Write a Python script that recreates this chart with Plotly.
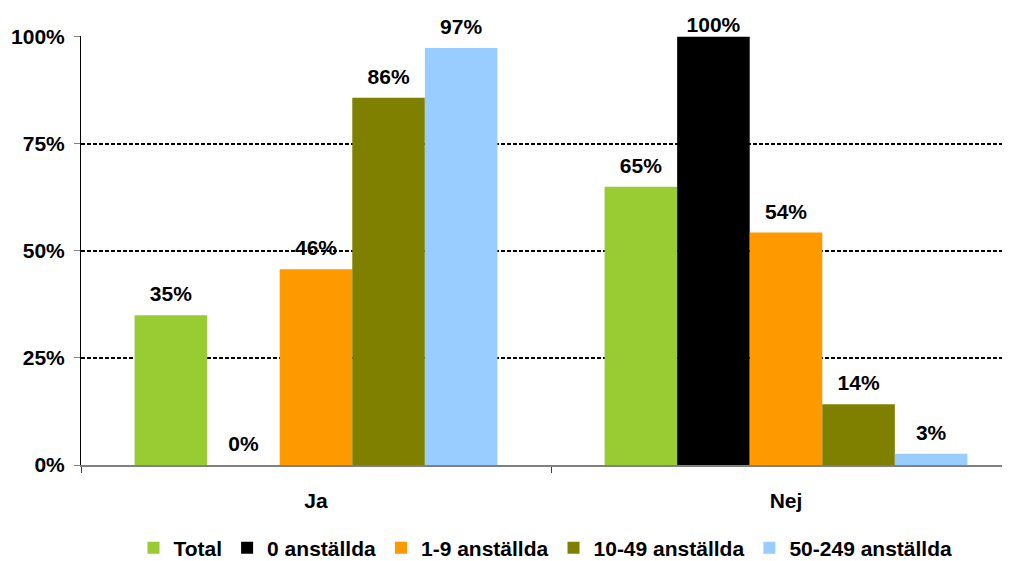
import plotly.graph_objects as go

categories = ["Ja", "Nej"]
series_names = ["Total", "0 anställda", "1-9 anställda", "10-49 anställda", "50-249 anställda"]
series_values = [
    [0.35, 0.65],
    [0.0, 1.00],
    [0.457, 0.543],
    [0.858, 0.142],
    [0.974, 0.026],
]
series_labels = [
    ["35%", "65%"],
    ["0%", "100%"],
    ["46%", "54%"],
    ["86%", "14%"],
    ["97%", "3%"],
]
colors = ["#99CC33", "#000000", "#FF9900", "#808000", "#99CCFF"]
y_ticks = [0, 0.25, 0.5, 0.75, 1.0]
y_ticklabels = ["0%", "25%", "50%", "75%", "100%"]

FONT = "Liberation Sans, Arial, sans-serif"
F = dict(family=FONT, size=21, color="#000000", weight="bold")
LABEL_PAD = 12.4  # invisible marker size that lifts the value labels

fig = go.Figure()
for name, vals, col in zip(series_names, series_values, colors):
    fig.add_trace(go.Bar(
        x=categories, y=vals, name=name, offsetgroup=name,
        marker=dict(color=col, line=dict(width=0)),
        hoverinfo="skip",
    ))
# value labels, aligned with bars through offset groups
for name, vals, labs in zip(series_names, series_values, series_labels):
    # labels of bars reaching the top are squeezed down against the plot top
    pads = [0 if v >= 0.99 else LABEL_PAD for v in vals]
    fig.add_trace(go.Scatter(
        x=categories, y=vals, offsetgroup=name, mode="markers+text",
        marker=dict(size=pads, opacity=0),
        text=labs, textposition="top center", textfont=F,
        showlegend=False, cliponaxis=False, hoverinfo="skip",
    ))

fig.update_layout(
    width=1010, height=561,
    margin=dict(l=73, r=8, t=28, b=104),
    paper_bgcolor="white", plot_bgcolor="white",
    barmode="group", bargap=0.228, bargroupgap=0,
    scattermode="group", scattergap=0.228,
    font=F,
    showlegend=True,
    legend=dict(orientation="h", x=0.5, xanchor="center",
                yref="container", y=0.074, yanchor="top",
                font=F, itemwidth=30, tracegroupgap=0, traceorder="normal"),
)
fig.update_xaxes(
    range=[-0.5, 1.4766], automargin=False,
    showline=True, linecolor="#808080", linewidth=1.5,
    ticks="outside", tickson="boundaries", ticklen=6, tickcolor="#404040",
    showgrid=False, zeroline=False, ticklabelstandoff=16,
    tickfont=F,
)
fig.update_yaxes(
    range=[0, 1.002], tickvals=y_ticks, ticktext=y_ticklabels, automargin=False,
    showline=True, linecolor="#000000", linewidth=1,
    ticks="outside", ticklen=6, tickcolor="#808080",
    showgrid=True, gridcolor="#000000", griddash="4px,2px", gridwidth=1.5,
    zeroline=False, ticklabelstandoff=5,
    tickfont=F,
)
fig.write_html("out.html")
